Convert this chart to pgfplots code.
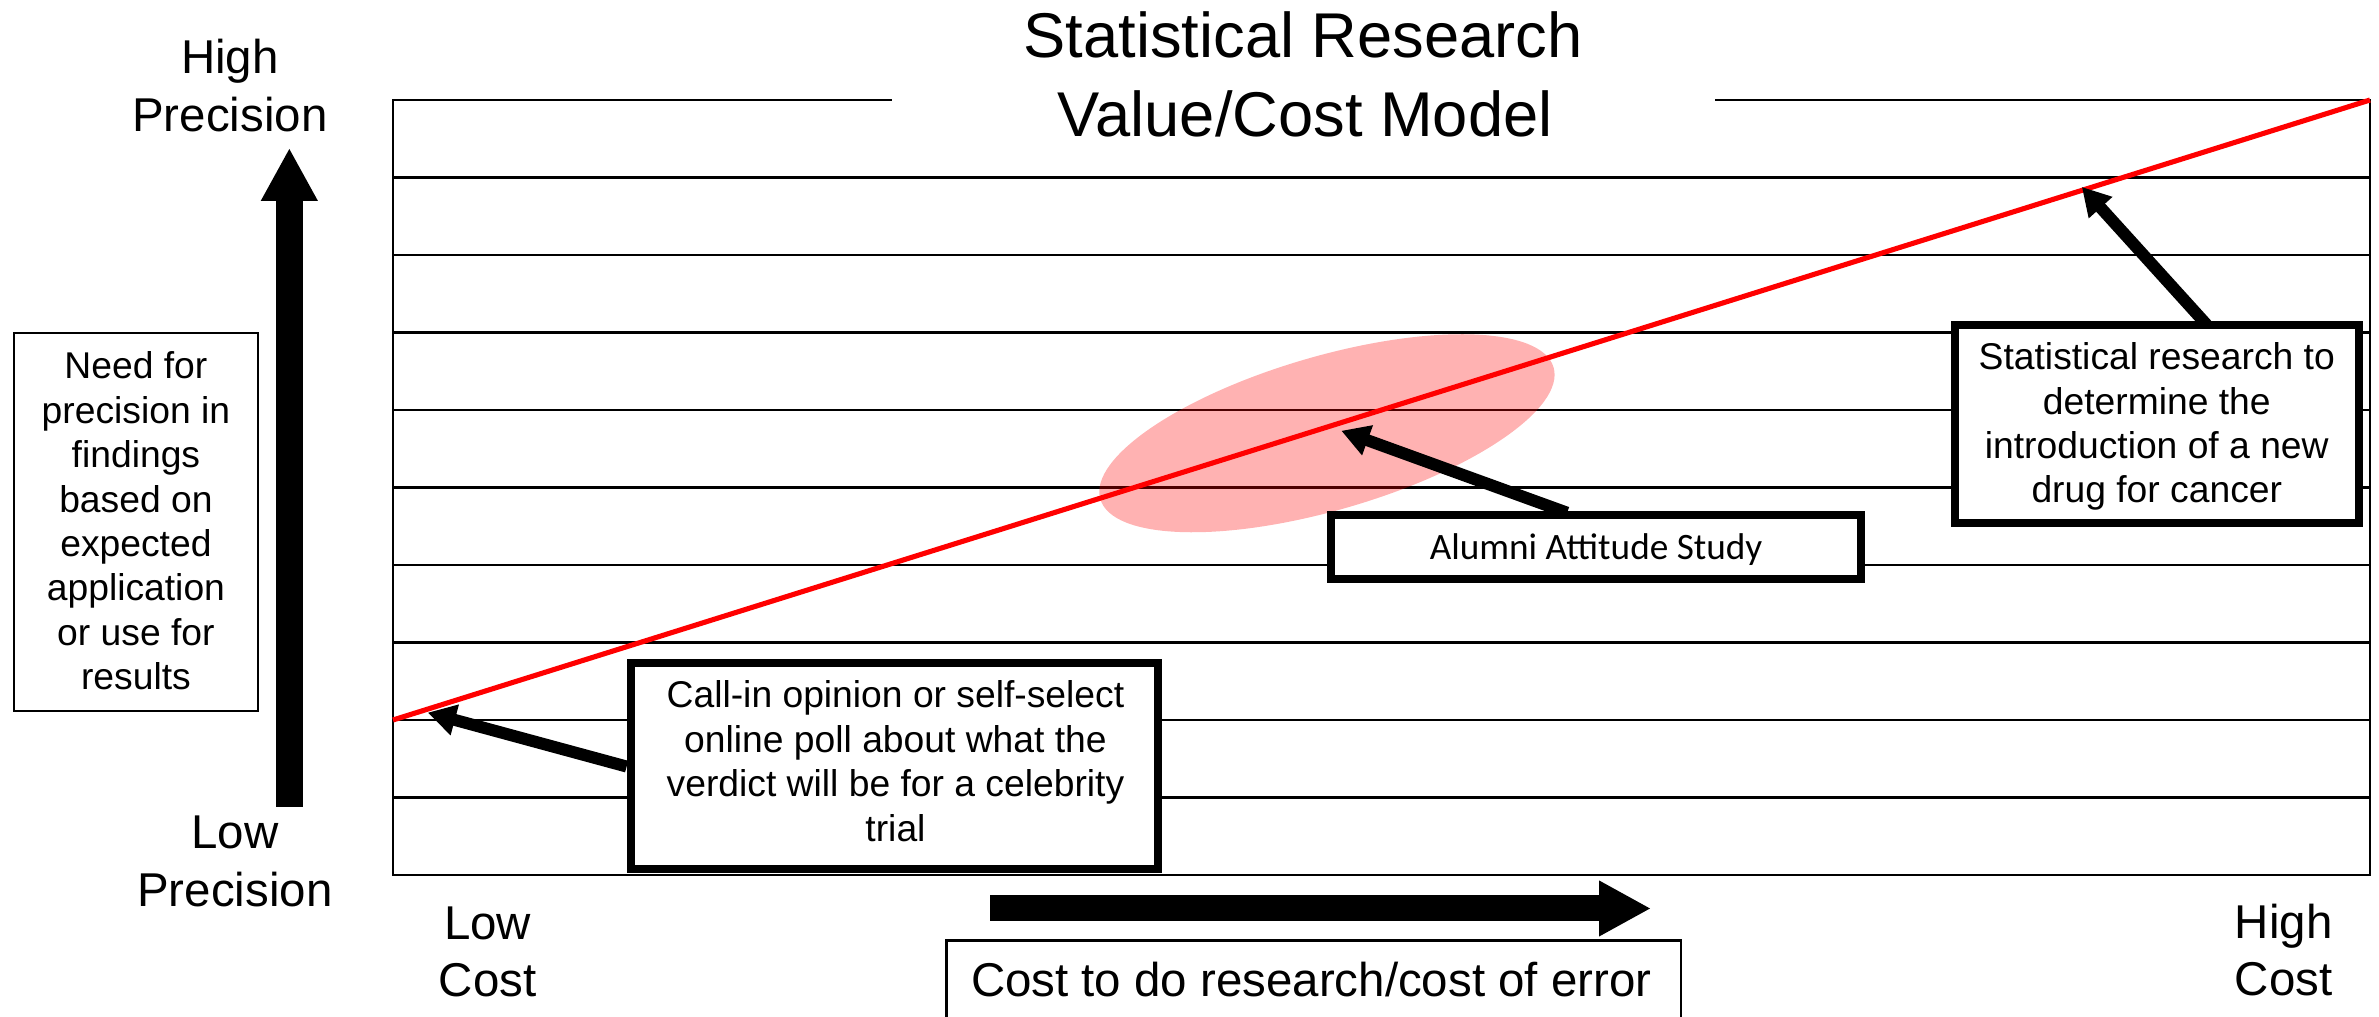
\documentclass[border=0pt]{standalone}
\usepackage{pgfplots}
\pgfplotsset{compat=1.18}
\usetikzlibrary{arrows.meta}
\usepackage{fontspec}
\setmainfont{Liberation Sans}
\newfontfamily\calibri{Carlito}
\newcommand\fs[2]{\fontsize{#1}{#2}\selectfont}
\begin{document}
\begin{tikzpicture}
\path[use as bounding box] (0,0) rectangle (23.79cm,-10.17cm);
\begin{axis}[
  scale only axis, width=19.77cm, height=7.75cm,
  at={(3.93cm,-8.75cm)}, anchor=south west,
  xmin=0, xmax=100, ymin=0, ymax=10,
  xtick=\empty, ytick={1,...,9}, yticklabels={},
  yticklabel style={text opacity=0},
  ymajorgrids, grid style={black, line width=0.6pt},
  axis line style={black, line width=0.6pt},
  major tick length=0pt,
  clip=false,
]
\fill[red, fill opacity=0.3] (axis cs:47.24,5.70) ellipse [x radius=2.36cm, y radius=0.77cm, rotate=16.2];
\addplot[red, line width=1.45pt, no markers] coordinates {(0,2) (100,10)};
\end{axis}
\begin{scope}[x=0.01cm, y=-0.01cm]
% title with white gap in top line
\fill[white] (893,94) rectangle (1716,107);
\node[anchor=base, font=\fs{18}{22}, inner sep=0pt] at (1304,58) {Statistical Research};
\node[anchor=base, font=\fs{18}{22}, inner sep=0pt] at (1306,137) {Value/Cost Model};
% corner labels
\begin{scope}[every node/.style={anchor=base, font=\fs{13.5}{16}, inner sep=0pt}]
\node at (230,74) {High};
\node at (230,132) {Precision};
\node at (235,849) {Low};
\node at (235,907) {Precision};
\node at (488,940) {Low};
\node at (488,997) {Cost};
\node at (2285,939) {High};
\node at (2285,996) {Cost};
\node at (1312,997) {Cost to do research/cost of error};
\end{scope}
% big arrows
\draw[line width=0.27cm, -{Triangle[width=0.53cm,length=0.53cm]}] (289.5,807) -- (289.5,148);
\draw[line width=0.26cm, -{Triangle[width=0.52cm,length=0.52cm]}] (991,909) -- (1652,909);
% boxes thin
\draw[line width=0.6pt] (14,333) rectangle (258,711);
\draw[line width=0.6pt] (947,1030) -- (947,941) -- (1682,941) -- (1682,1030);
\begin{scope}[every node/.style={anchor=base, font=\fs{10.6}{12.6}, inner sep=0pt}]
\node at (136,379) {Need for};
\node at (136,423.4) {precision in};
\node at (136,467.9) {findings};
\node at (136,512.3) {based on};
\node at (136,556.7) {expected};
\node at (136,601.1) {application};
\node at (136,645.6) {or use for};
\node at (136,690) {results};
\end{scope}
% annotation arrows
\draw[line width=0.12cm, -{Triangle[width=0.3cm,length=0.28cm]}] (627,767) -- (428,713);
\draw[line width=0.12cm, -{Triangle[width=0.3cm,length=0.28cm]}] (1568,513) -- (1342,431);
\draw[line width=0.12cm, -{Triangle[width=0.3cm,length=0.28cm]}] (2208,325) -- (2083,187);
% thick boxes
\draw[line width=0.08cm, fill=white] (631,663) rectangle (1159,869);
\draw[line width=0.08cm, fill=white] (1332,515) rectangle (1862,579);
\draw[line width=0.08cm, fill=white] (1956,325) rectangle (2360,523);
\begin{scope}[every node/.style={anchor=base, font=\fs{10.6}{12.6}, inner sep=0pt}]
\node at (896,708) {Call-in opinion or self-select};
\node at (896,753) {online poll about what the};
\node at (896,797) {verdict will be for a celebrity};
\node at (896,842) {trial};
\node at (2158,370) {Statistical research to};
\node at (2158,415) {determine the};
\node at (2158,459) {introduction of a new};
\node at (2158,503) {drug for cancer};
\node[font=\calibri\fs{10.6}{12.6}] at (1597,560) {Alumni Attitude Study};
\end{scope}
\end{scope}
\end{tikzpicture}
\end{document}
